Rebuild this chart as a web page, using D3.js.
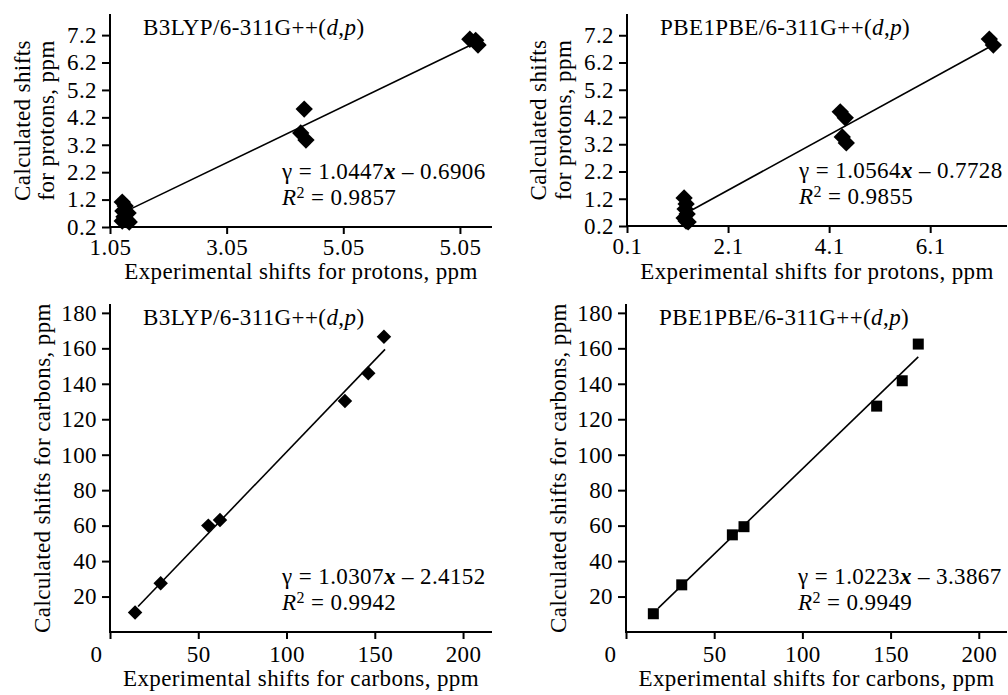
<!DOCTYPE html>
<html>
<head>
<meta charset="utf-8">
<script src="https://cdn.jsdelivr.net/npm/d3@7"></script>
<style>
  body { margin: 0; background: #fff; }
  svg text { font-family: "Liberation Serif", Tinos, "Times New Roman", Times, serif; fill: #000; }
</style>
</head>
<body>
<svg id="chart" width="1008" height="695"></svg>
<script>
'use strict';

// top row: protons
const protonB3X = [1.26, 1.31, 1.27, 1.36, 1.29, 1.34, 1.26, 1.38, 4.38, 4.32, 4.41, 7.22, 7.32, 7.36];
const protonB3Y = [1.11, 0.97, 0.78, 0.71, 0.57, 0.46, 0.42, 0.38, 4.50, 3.63, 3.37, 7.05, 7.01, 6.84];
const protonB3Fit = [[1.31, 0.76], [7.30, 6.90]];
const protonB3Ticks = [1.05, 3.05, 5.05, 7.05];
const protonB3TickLabels = ['1.05', '3.05', '5.05', '5.05'];

const protonPbeX = [1.23, 1.27, 1.25, 1.29, 1.23, 1.27, 1.31, 4.32, 4.42, 4.36, 4.44, 7.27, 7.35];
const protonPbeY = [1.23, 1.01, 0.82, 0.64, 0.49, 0.38, 0.35, 4.39, 4.17, 3.47, 3.25, 7.06, 6.84];
const protonPbeFit = [[1.25, 0.65], [7.29, 6.79]];
const protonPbeTicks = [0.1, 2.1, 4.1, 6.1];
const protonPbeTickLabels = ['0.1', '2.1', '4.1', '6.1'];

const protonYTicks = [0.2, 1.2, 2.2, 3.2, 4.2, 5.2, 6.2, 7.2];
const protonYTickLabels = ['0.2', '1.2', '2.2', '3.2', '4.2', '5.2', '6.2', '7.2'];

// bottom row: carbons
const carbonB3X = [14.2, 28.7, 55.7, 62.3, 133.1, 146.3, 155.2];
const carbonB3Y = [11.0, 27.5, 60.0, 63.2, 130.3, 145.9, 166.5];
const carbonB3Fit = [[15.9, 14.4], [155.8, 159.4]];

const carbonPbeX = [15.5, 31.6, 60.3, 66.9, 142.1, 156.6, 165.7];
const carbonPbeY = [10.3, 26.6, 54.8, 59.4, 127.4, 141.7, 162.4];
const carbonPbeFit = [[18.3, 13.5], [165.7, 155.2]];

const carbonXTicks = [0, 50, 100, 150, 200];
const carbonXTickLabels = ['0', '50', '100', '150', '200'];
const carbonYTicks = [20, 40, 60, 80, 100, 120, 140, 160, 180];
const carbonYTickLabels = ['20', '40', '60', '80', '100', '120', '140', '160', '180'];

const methodNames = ['B3LYP/6-311G++(', 'PBE1PBE/6-311G++('];
const equations = [
  ['1.0447', '0.6906', '0.9857'],
  ['1.0564', '0.7728', '0.9855'],
  ['1.0307', '2.4152', '0.9942'],
  ['1.0223', '3.3867', '0.9949']
];

const svg = d3.select('#chart');
const FONT = 23;
const SPACING = '0.4px';
const FAMILY = '"Liberation Serif", Tinos, "Times New Roman", Times, serif';

function txt(sel) {
  return sel.attr('font-family', FAMILY).attr('font-size', FONT).style('letter-spacing', SPACING);
}

function drawPanel(p) {
  const x = d3.scaleLinear().domain(p.xDomain).range([p.left, p.right]);
  const y = d3.scaleLinear().domain(p.yDomain).range([p.bottom, p.top]);
  const g = svg.append('g');

  const xAxis = d3.axisBottom(x)
    .tickValues(p.xTicks)
    .tickFormat((d, i) => p.xLabels[i])
    .tickSize(7).tickSizeOuter(0).tickPadding(p.xPad);
  const yAxis = d3.axisLeft(y)
    .tickValues(p.yTicks)
    .tickFormat((d, i) => p.yLabels[i])
    .tickSize(8).tickSizeOuter(0).tickPadding(5);

  const xg = g.append('g').attr('transform', `translate(0,${p.bottom})`).call(xAxis);
  const yg = g.append('g').attr('transform', `translate(${p.left},0)`).call(yAxis);
  // axis lines run across the whole plot, not only the ticks
  xg.select('.domain').attr('d', `M${p.left - 1},0H${p.right}`);
  yg.select('.domain').attr('d', `M0,${p.top}V${p.bottom + 1}`);
  [xg, yg].forEach(a => {
    txt(a);
    a.selectAll('path, line').attr('stroke', '#000').attr('stroke-width', 2);
  });
  if (p.zeroShift) {
    xg.selectAll('.tick text').filter(d => d === 0).attr('dx', p.zeroShift);
  }

  // fit line under the markers
  g.append('line')
    .attr('x1', x(p.fit[0][0])).attr('y1', y(p.fit[0][1]))
    .attr('x2', x(p.fit[1][0])).attr('y2', y(p.fit[1][1]))
    .attr('stroke', '#000').attr('stroke-width', 1.6);

  const pts = p.xs.map((v, i) => [v, p.ys[i]]);
  const sym = d3.symbol().type(d3.symbolSquare).size(p.markerSize);
  g.selectAll('path.mark').data(pts).enter().append('path')
    .attr('class', 'mark')
    .attr('d', sym)
    .attr('transform', d => `translate(${x(d[0])},${y(d[1])}) rotate(${p.diamond ? 45 : 0})`)
    .attr('fill', '#000');

  // method title
  const t = txt(g.append('text'))
    .attr('x', p.left + 33).attr('y', p.top + 21);
  t.append('tspan').text(p.method);
  t.append('tspan').attr('font-style', 'italic').text('d');
  t.append('tspan').text(',');
  t.append('tspan').attr('font-style', 'italic').text('p');
  t.append('tspan').text(')');

  // regression text
  const eq = txt(g.append('text'))
    .attr('x', p.left + 172).attr('y', p.bottom - 48);
  eq.append('tspan').text('\u03b3 = ' + p.eq[0]);
  eq.append('tspan').attr('font-style', 'italic').attr('font-weight', 'bold').text('x');
  eq.append('tspan').text(' \u2013 ' + p.eq[1]);

  const r2 = txt(g.append('text'))
    .attr('x', p.left + 172).attr('y', p.bottom - 22);
  r2.append('tspan').attr('font-style', 'italic').text('R');
  r2.append('tspan').attr('font-size', 16).attr('dy', -7).text('2');
  r2.append('tspan').attr('dy', 7).text(' = ' + p.eq[2]);

  // axis titles
  txt(g.append('text'))
    .attr('x', (p.left + p.right) / 2).attr('y', p.bottom + p.xTitleOff)
    .attr('text-anchor', 'middle')
    .text(p.xTitle);

  const cy = (p.top + p.bottom) / 2;
  p.yTitle.forEach((line, i) => {
    const bx = p.left - p.yTitleOff[i];
    txt(g.append('text'))
      .attr('transform', `translate(${bx},${cy}) rotate(-90)`)
      .attr('text-anchor', 'middle')
      .text(line);
  });
}

drawPanel({
  left: 110, right: 492, top: 14, bottom: 227,
  xDomain: [1.05, 7.6], yDomain: [0.2, 7.97],
  xTicks: protonB3Ticks, xLabels: protonB3TickLabels,
  yTicks: protonYTicks, yLabels: protonYTickLabels,
  xs: protonB3X, ys: protonB3Y, fit: protonB3Fit,
  diamond: true, markerSize: 150,
  method: methodNames[0], eq: equations[0],
  xPad: 5, xTitleOff: 52,
  xTitle: 'Experimental shifts for protons, ppm',
  yTitle: ['Calculated shifts', 'for protons, ppm'], yTitleOff: [80, 56]
});

drawPanel({
  left: 627, right: 1007, top: 14, bottom: 226,
  xDomain: [0.1, 7.62], yDomain: [0.2, 7.98],
  xTicks: protonPbeTicks, xLabels: protonPbeTickLabels,
  yTicks: protonYTicks, yLabels: protonYTickLabels,
  xs: protonPbeX, ys: protonPbeY, fit: protonPbeFit,
  diamond: true, markerSize: 150,
  method: methodNames[1], eq: equations[1],
  xPad: 5, xTitleOff: 53,
  xTitle: 'Experimental shifts for protons, ppm',
  yTitle: ['Calculated shifts', 'for protons, ppm'], yTitleOff: [81, 56]
});

drawPanel({
  left: 110, right: 492, top: 304, bottom: 632,
  xDomain: [0, 216.4], yDomain: [0, 185],
  xTicks: carbonXTicks, xLabels: carbonXTickLabels,
  yTicks: carbonYTicks, yLabels: carbonYTickLabels,
  xs: carbonB3X, ys: carbonB3Y, fit: carbonB3Fit,
  diamond: true, markerSize: 105, zeroShift: -14,
  method: methodNames[0], eq: equations[2],
  xPad: 7, xTitleOff: 54,
  xTitle: 'Experimental shifts for carbons, ppm',
  yTitle: ['Calculated shifts for carbons, ppm'], yTitleOff: [60]
});

drawPanel({
  left: 626, right: 1007, top: 304, bottom: 632,
  xDomain: [0, 216], yDomain: [0, 185],
  xTicks: carbonXTicks, xLabels: carbonXTickLabels,
  yTicks: carbonYTicks, yLabels: carbonYTickLabels,
  xs: carbonPbeX, ys: carbonPbeY, fit: carbonPbeFit,
  diamond: false, markerSize: 121, zeroShift: -16,
  method: methodNames[1], eq: equations[3],
  xPad: 7, xTitleOff: 54,
  xTitle: 'Experimental shifts for carbons, ppm',
  yTitle: ['Calculated shifts for carbons, ppm'], yTitleOff: [60]
});
</script>
</body>
</html>
